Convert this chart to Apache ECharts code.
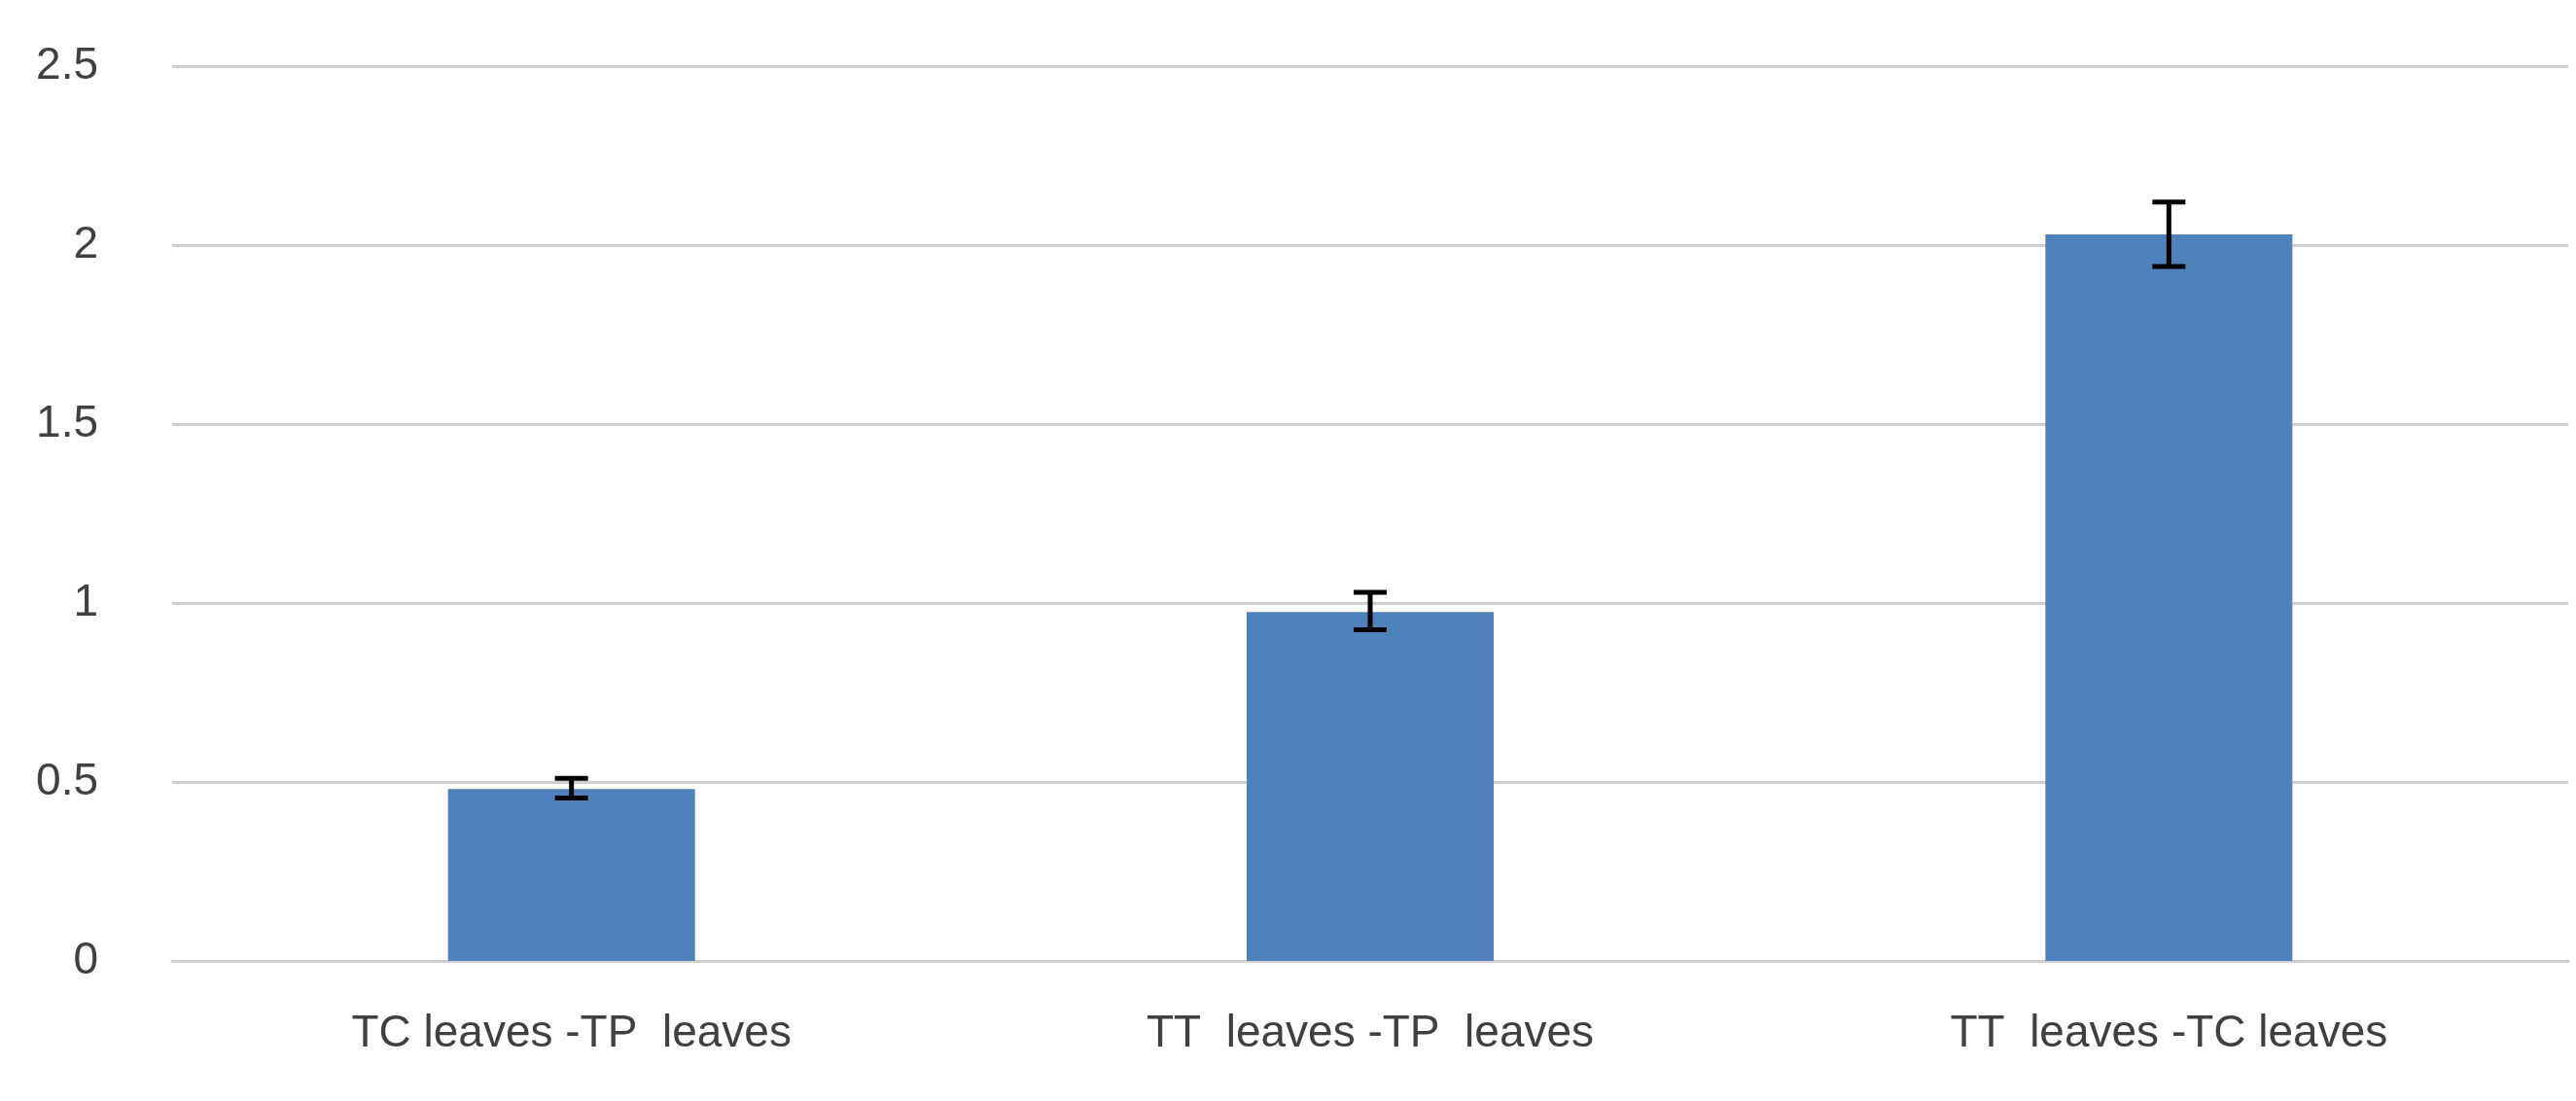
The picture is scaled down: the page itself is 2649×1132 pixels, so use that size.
<!DOCTYPE html><html><head><meta charset="utf-8">
<script src="https://cdn.jsdelivr.net/npm/echarts@6/dist/echarts.min.js"></script>
<style>html,body{margin:0;padding:0;background:#fff}#c{width:2649px;height:1132px}</style></head>
<body><div id="c"></div><script>
const categories=["TC leaves -TP  leaves","TT  leaves -TP  leaves","TT  leaves -TC leaves"];
const values=[0.48,0.975,2.03];
const errLow=[0.455,0.925,1.94];
const errHigh=[0.51,1.03,2.12];
const yTicks=[0,0.5,1,1.5,2,2.5];
const chart=echarts.init(document.getElementById('c'));
const font={fontFamily:'Liberation Sans, Arial, sans-serif',fontSize:46,color:'#404040'};
chart.setOption({
 animation:false,
 grid:{left:177,right:8,top:68,bottom:144},
 xAxis:{type:'category',data:categories,axisLine:{lineStyle:{color:'#d0d0d0',width:3}},axisTick:{show:false},axisLabel:Object.assign({margin:52},font)},
 yAxis:{type:'value',min:0,max:2.5,interval:0.5,axisLine:{show:false},axisTick:{show:false},
         splitLine:{lineStyle:{color:'#d0d0d0',width:3}},axisLabel:Object.assign({margin:76,formatter:v=>String(v)},font)},
 series:[{type:'bar',data:values,barWidth:254,itemStyle:{color:'#4f81bd'}},
  {type:'custom',data:categories.map((c,i)=>[i,errLow[i],errHigh[i]]),
   renderItem:(p,api)=>{const a=api.coord([api.value(0),api.value(1)]),b=api.coord([api.value(0),api.value(2)]);const w=17;
    const st={stroke:'#000',lineWidth:5};
    return {type:'group',children:[
     {type:'line',shape:{x1:a[0],y1:a[1],x2:b[0],y2:b[1]},style:st},
     {type:'line',shape:{x1:a[0]-w,y1:a[1],x2:a[0]+w,y2:a[1]},style:st},
     {type:'line',shape:{x1:b[0]-w,y1:b[1],x2:b[0]+w,y2:b[1]},style:st}]};},z:5}]
});
</script></body></html>
